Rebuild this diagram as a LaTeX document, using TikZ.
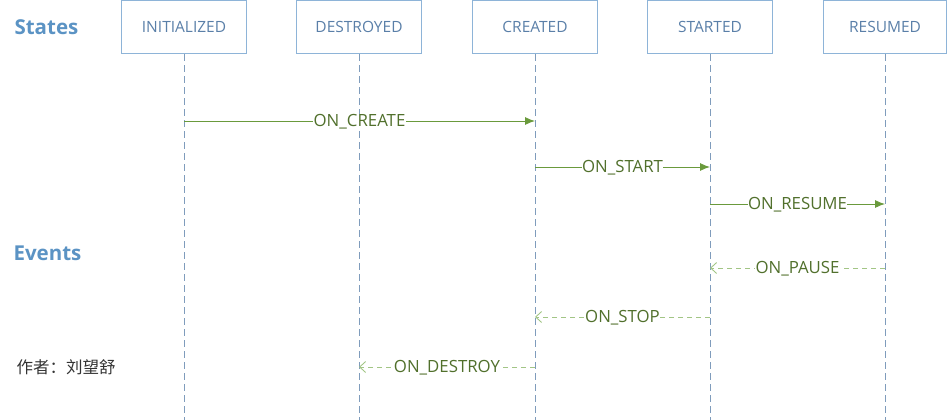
\documentclass[tikz,border=0pt]{standalone}
\usepackage{fontspec}
\setmainfont{Open Sans}
\newfontfamily\cjkfont{Noto Sans CJK SC}
\usetikzlibrary{arrows.meta,positioning}
\definecolor{boxline}{HTML}{8EB4D8}
\definecolor{boxtext}{HTML}{5A7FA8}
\definecolor{lifeline}{HTML}{7F9CBC}
\definecolor{callgreen}{HTML}{6A9A3C}
\definecolor{backgreen}{HTML}{A2C585}
\definecolor{labelgreen}{HTML}{51702C}
\definecolor{headblue}{HTML}{5B93C4}
\tikzset{
  state/.style={draw=boxline, line width=0.8pt, minimum width=125pt, minimum height=53pt,
    text=boxtext, font=\fontsize{15.5}{18}\selectfont, anchor=north},
  life/.style={draw=lifeline, line width=0.8pt, dash pattern=on 7pt off 4pt},
  call/.style={draw=callgreen, line width=0.9pt, -{Latex[length=10pt,width=8pt]}},
  reply/.style={draw=backgreen, line width=0.9pt, dash pattern=on 5pt off 4pt,
    -{Straight Barb[length=6pt,width=11pt]}},
  evt/.style={fill=white, text=labelgreen, inner sep=0.5pt, yshift=-0.8pt,
    font=\fontsize{16.8}{18}\selectfont},
  heading/.style={text=headblue, anchor=west, font=\bfseries\fontsize{20.5}{22}\selectfont}
}

\begin{document}
\begin{tikzpicture}[x=1pt, y=-1pt]
  \useasboundingbox (0,0) rectangle (948,420);
  % states
  \node[state] (init) at (184,0.5) {INITIALIZED};
  \node[state] (destroyed) at (359,0.5) {DESTROYED};
  \node[state] (created) at (535,0.5) {CREATED};
  \node[state] (started) at (710,0.5) {STARTED};
  \node[state, minimum width=123pt] (resumed) at (885,0.5) {RESUMED};
  \node[heading] (states) at (11,27) {States};
  \node[heading] (events) at (10,253) {Events};
  \node[anchor=west, text=black!80, font=\cjkfont\fontsize{16.5}{18}\selectfont] (author) at (13,367) {作者：刘望舒};
  % lifelines
  \foreach \s in {init,destroyed,created,started,resumed}
    \coordinate (\s-end) at (\s |- 0,420);
  \foreach \s in {init,destroyed,created,started,resumed}
    \draw[life] (\s) -- (\s-end);
  % event rows
  \coordinate (r-create) at (0,121);
  \coordinate (r-start) at (0,167);
  \coordinate (r-resume) at (0,204);
  \coordinate (r-pause) at (0,268);
  \coordinate (r-stop) at (0,317);
  \coordinate (r-destroy) at (0,367);
  \path
  (init |- r-create) edge[call] node[evt] {ON\_CREATE} (created |- r-create)
  (created |- r-start) edge[call] node[evt] {ON\_START} (started |- r-start)
  (started |- r-resume) edge[call] node[evt] {ON\_RESUME} (resumed |- r-resume)
  (resumed |- r-pause) edge[reply] node[evt] {ON\_PAUSE} (started |- r-pause)
  (started |- r-stop) edge[reply] node[evt] {ON\_STOP} (created |- r-stop)
  (created |- r-destroy) edge[reply] node[evt] {ON\_DESTROY} (destroyed |- r-destroy);
\end{tikzpicture}
\end{document}
